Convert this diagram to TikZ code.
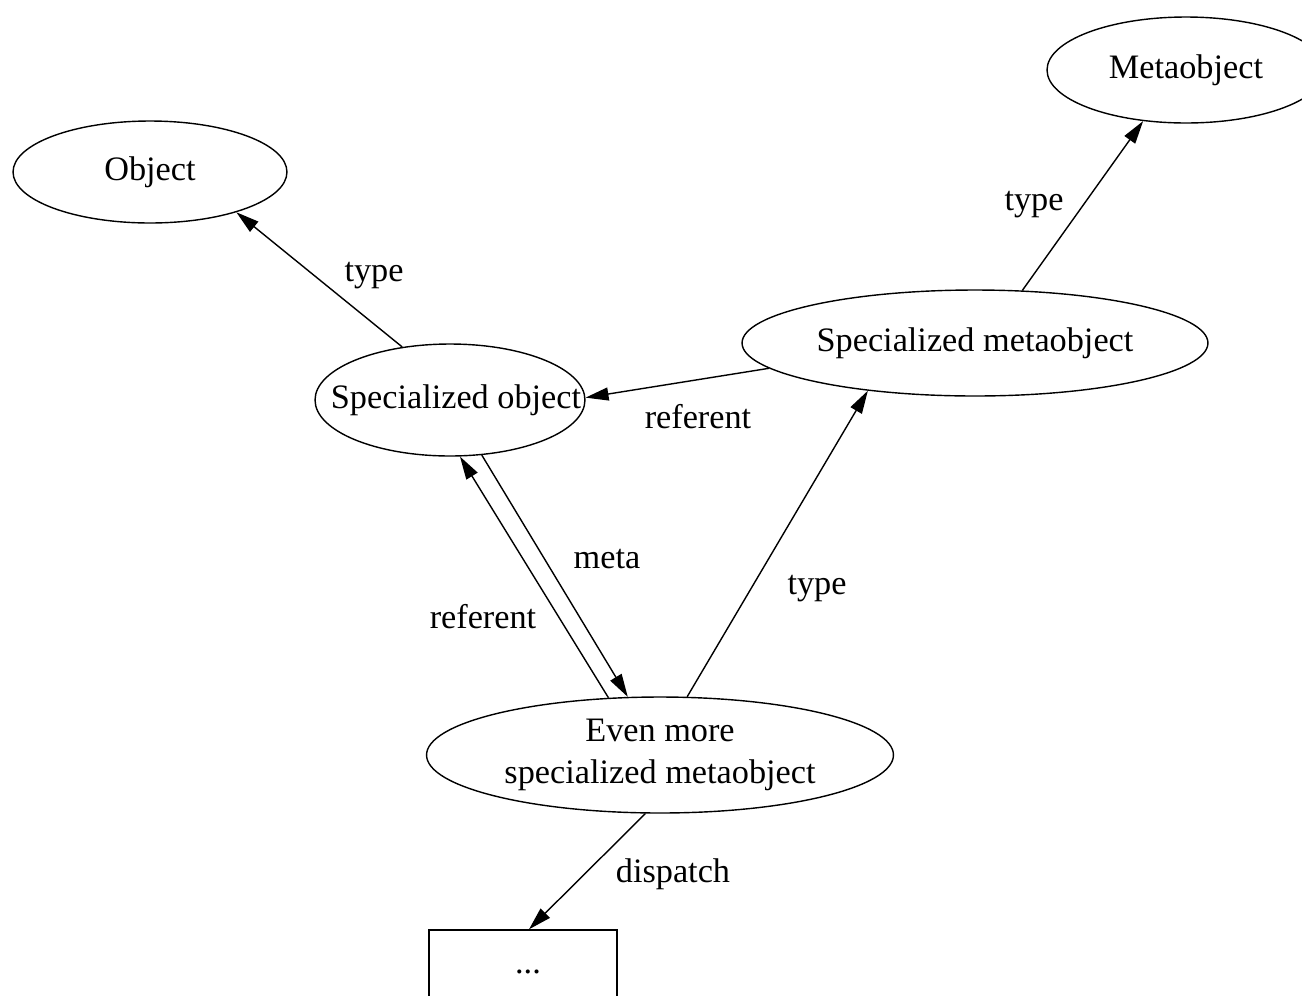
\documentclass[tikz,border=0pt]{standalone}
\usepackage{fontspec}
\setmainfont{Liberation Serif}
\usetikzlibrary{shapes.geometric,arrows.meta}
\begin{document}
\begin{tikzpicture}[x=0.02cm, y=-0.02cm, line width=0.8pt,
  every node/.style={font=\fontsize{19.5}{23.9}\selectfont},
  obj/.style={ellipse, draw, inner sep=0pt},
  rel/.style={-{Triangle[length=0.46cm, width=0.26cm]}}]
\useasboundingbox (0,0) rectangle (1302,995);
% nodes
\node[obj, minimum width=5.48cm, minimum height=2.04cm] (obj) at (150,172) {Object};
\node[obj, minimum width=5.56cm, minimum height=2.12cm] (meta) at (1186,70) {Metaobject};
\node[obj, minimum width=9.32cm, minimum height=2.12cm] (smeta) at (975,343) {Specialized metaobject};
% text is wider than this ellipse, so it goes in as a centred label
\node[obj, minimum width=5.4cm, minimum height=2.24cm,
  label={[xshift=0.12cm]center:Specialized object}] (sobj) at (450,400) {};
\node[obj, minimum width=9.34cm, minimum height=2.32cm, align=center] (even) at (660,755) {Even more\\specialized metaobject};
\node[rectangle, draw, minimum width=3.76cm, minimum height=1.68cm] (box) at (523,972) {\hspace{0.2cm}...};
% edges
\draw[rel] (sobj.132.4) -- (obj.335.2);
\draw[rel] (smeta.48.5) -- (meta.230.4);
\draw[rel] (smeta.187.2) -- (sobj.1.7);
\draw[rel] (even.132.3) -- (sobj.280);
\draw[rel] (sobj.300) -- (even.119.5);
\draw[rel] (even.65.9) -- (smeta.204.7);
\draw[rel] (even.256.7) -- (box.82);
% labels
\node (ltypeobj) at (374,276) {type};
\node (ltypemeta) at (1034,205) {type};
\node (lrefsmeta) at (698,417) {referent};
\node (lmeta) at (607,559) {meta};
\node (lrefeven) at (483,617) {referent};
\node (ltypesmeta) at (817,589) {type};
\node (ldispatch) at (673,874) {dispatch};
\end{tikzpicture}
\end{document}
